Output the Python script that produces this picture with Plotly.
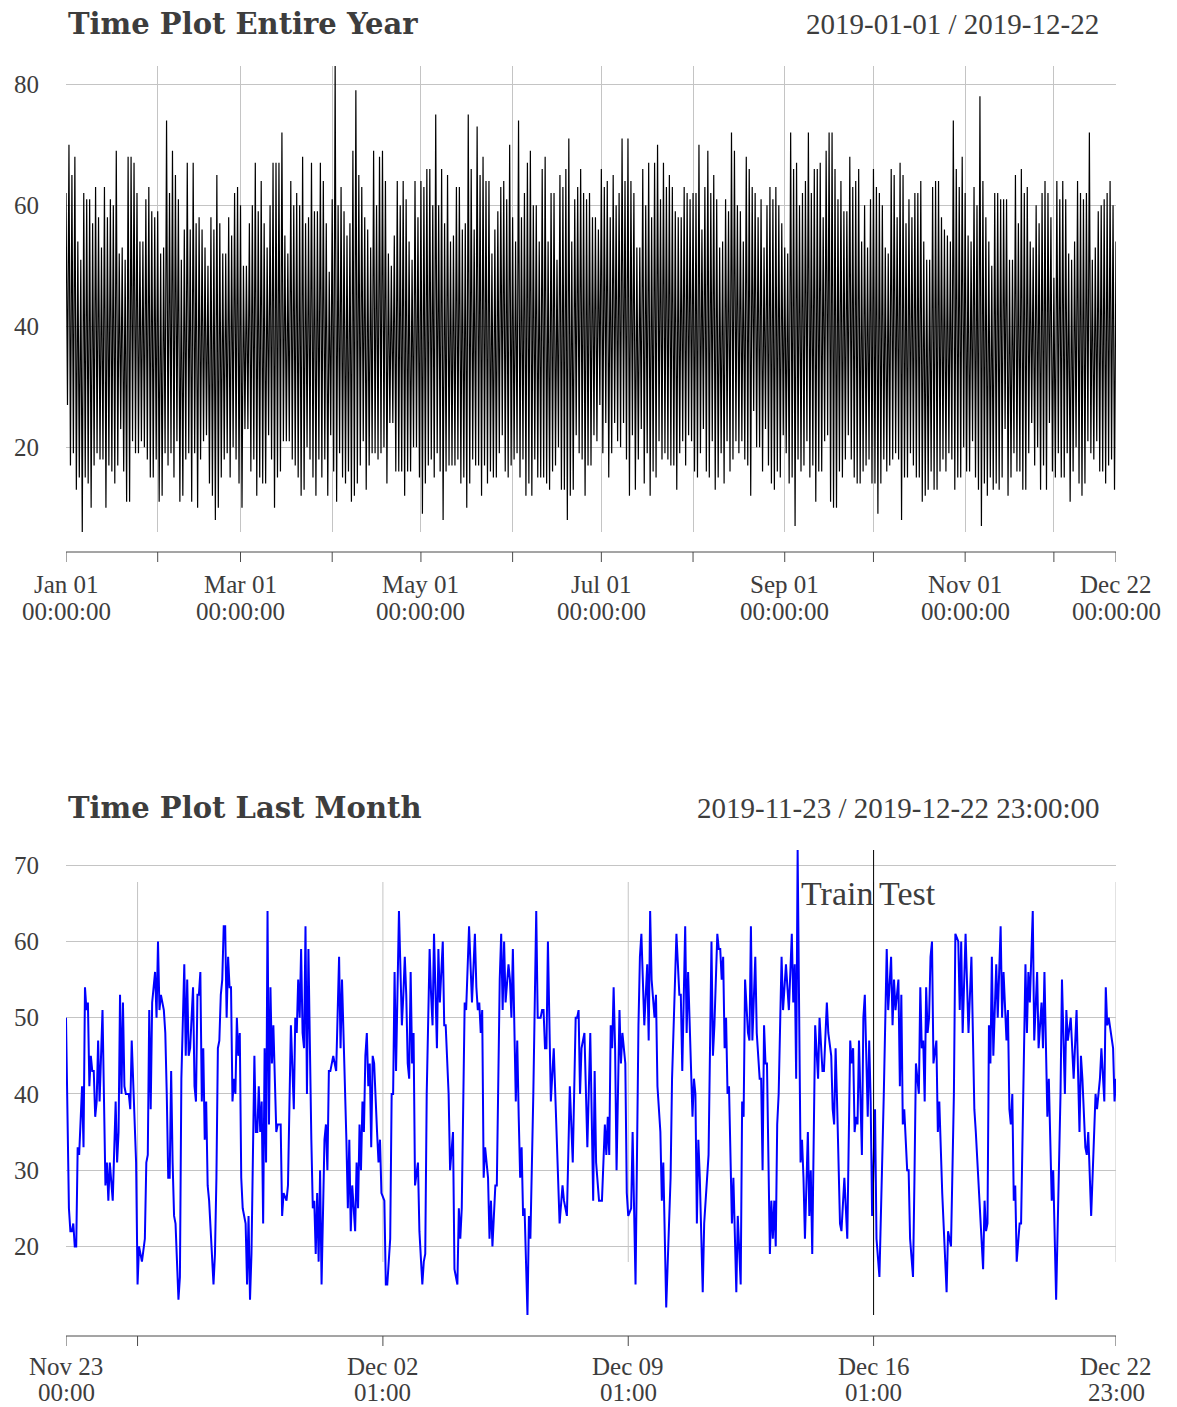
import pandas as pd
import plotly.graph_objects as go

W, H = 1177, 1407

# ---------------- data: entire year (daily high / low strokes) ----------------
year_start = "2019-01-01"
year_end = "2019-12-22"
top_peaks = [
    62,70,65,68,54,51,62,61,61,57,63,58,53,63,58,61,60,69,52,53,51,68,68,67,62,54,54,61,63,59,
    58,59,52,53,74,62,69,65,61,51,56,67,56,67,57,58,56,53,50,58,56,65,57,52,52,58,55,62,63,
    60,50,50,57,60,67,59,64,57,53,60,67,67,67,72,55,52,64,60,62,60,68,57,58,67,59,59,67,64,57,
    49,61,83,60,63,59,55,57,69,79,65,63,58,56,53,69,60,68,69,64,52,50,55,64,60,64,61,54,51,64,
    58,64,63,66,66,60,75,60,66,57,65,54,55,63,63,56,57,75,66,56,73,65,68,64,64,52,56,59,63,64,
    61,70,58,54,74,58,62,67,69,60,60,54,66,68,54,62,62,51,65,63,66,71,54,61,63,66,62,61,62,
    58,58,56,66,63,64,58,65,60,62,71,64,71,64,62,53,53,66,60,67,58,67,70,61,67,63,65,63,59,58,
    58,63,62,61,62,62,70,56,63,69,62,65,61,53,54,61,59,72,69,60,59,54,68,66,63,62,58,61,53,
    60,63,61,63,60,57,53,52,72,66,67,60,62,64,72,62,66,66,67,58,69,72,72,66,61,64,59,59,68,63,
    64,66,54,60,53,61,66,63,62,60,53,52,66,65,58,67,65,57,61,58,62,62,64,54,51,51,63,64,64,
    58,56,55,54,74,66,63,68,62,55,54,63,60,78,64,58,54,50,62,62,61,61,61,51,51,65,57,66,62,63,
    54,53,60,57,62,64,62,58,48,64,61,64,61,52,51,54,64,62,61,62,72,51,53,59,60,61,62,64,60,54,
]
top_troughs = [
    27,17,19,13,15,6,15,14,10,17,19,18,18,10,17,16,14,17,23,16,11,11,21,19,19,21,20,18,15,15,
    18,11,12,19,17,19,15,21,11,12,18,19,11,19,10,18,21,22,14,12,8,10,15,18,19,15,20,18,14,
    10,23,23,16,18,12,15,14,14,22,18,10,15,16,21,21,21,18,17,15,12,13,20,18,15,12,18,15,18,12,
    22,16,11,19,15,14,16,11,12,14,17,21,13,17,19,19,18,19,20,14,24,24,16,16,16,12,16,16,20,20,
    15,9,14,17,18,15,19,16,8,16,17,17,17,18,14,15,10,14,18,17,17,12,17,14,16,15,15,19,22,16,
    15,17,18,19,15,18,12,14,12,18,15,15,15,14,13,16,17,20,13,13,8,12,13,22,19,18,12,17,17,
    22,21,27,19,24,15,19,24,21,20,24,18,12,22,13,18,23,14,19,12,16,15,21,18,19,18,17,17,13,19,
    21,17,22,21,16,15,19,23,16,15,21,13,15,19,14,21,16,18,21,19,21,18,17,12,26,20,20,16,23,
    17,14,13,16,15,22,19,14,15,7,18,16,17,21,15,17,11,16,16,21,22,11,10,10,16,15,18,22,18,15,
    14,14,16,17,18,14,14,9,14,18,16,17,18,19,18,8,15,15,19,17,15,15,11,12,13,16,13,13,16,
    18,16,19,18,13,15,15,20,16,16,21,15,13,7,14,12,15,13,14,13,15,23,12,15,19,16,16,13,13,19,
    24,17,20,13,17,13,24,16,15,19,15,15,19,11,16,20,14,12,14,21,19,18,21,16,16,14,17,18,13,22,
]
top_tick_dates = ["2019-01-01","2019-02-01","2019-03-01","2019-04-01","2019-05-01","2019-06-01",
                  "2019-07-01","2019-08-01","2019-09-01","2019-10-01","2019-11-01","2019-12-01","2019-12-22"]
top_tick_line1 = ["Jan 01","","Mar 01","","May 01","","Jul 01","","Sep 01","","Nov 01","","Dec 22"]
top_tick_line2 = ["00:00:00","","00:00:00","","00:00:00","","00:00:00","","00:00:00","","00:00:00","","00:00:00"]
top_yticks = [20, 40, 60, 80]

# ---------------- data: last month (hourly) ----------------
month_start = "2019-11-23 00:00"
month_end = "2019-12-22 23:00"
month_hours = [
    0,2,3,4,5,6,7,8,9,11,12,13,14,15,16,17,18,19,20,21,22,23,25,26,27,28,29,30,32,34,35,36,37,38,39,40,41,43,44,45,
    47,48,49,50,52,54,55,56,57,58,59,60,61,62,63,64,65,67,68,69,70,71,72,73,74,75,77,78,79,81,82,83,84,85,87,88,89,90,91,92,
    93,94,95,96,97,98,101,102,103,104,105,106,107,108,109,110,111,112,113,114,115,116,117,118,119,
    120,121,123,124,125,126,127,129,130,131,132,133,134,135,136,137,138,139,140,141,142,144,145,147,148,149,151,152,154,156,
    157,158,159,160,161,162,163,164,165,166,168,169,170,171,172,173,174,175,177,178,179,180,181,183,184,185,187,188,189,191,
    192,193,194,195,196,198,199,200,201,202,203,204,205,206,207,208,209,210,211,213,214,215,216,218,219,220,222,223,224,225,226,228,
    230,231,232,233,234,235,236,237,238,239,241,242,244,245,246,247,249,250,251,252,253,254,255,256,258,259,260,262,263,265,
    266,268,269,270,271,272,273,274,276,278,280,281,282,283,284,285,286,287,289,290,291,292,294,295,297,298,299,300,301,303,
    304,305,306,308,309,310,311,312,313,314,316,317,318,320,322,323,325,326,327,328,329,330,332,334,336,338,340,341,343,344,
    345,347,349,350,351,352,353,355,357,359,361,362,363,365,367,369,370,371,372,373,374,375,376,377,379,380,381,383,384,385,
    387,388,390,392,393,394,396,398,399,400,401,403,404,405,407,408,409,411,414,415,417,418,420,421,422,424,425,426,429,430,
    431,432,433,434,436,437,440,442,443,444,446,447,448,449,450,451,452,453,454,456,457,459,460,462,463,464,465,467,468,469,
    470,472,473,475,476,477,478,479,480,482,483,484,485,486,487,488,490,491,493,495,497,498,499,500,501,502,503,504,505,506,
    508,509,510,511,513,515,516,518,519,521,522,524,525,526,527,528,530,531,533,535,537,538,539,540,541,542,543,545,546,547,
    549,550,551,552,554,555,557,560,561,562,563,565,566,567,568,570,571,572,573,574,576,577,578,580,581,582,584,585,586,587,
    588,589,590,591,592,593,594,596,597,598,600,603,604,606,608,609,611,612,613,614,616,618,620,622,623,626,628,629,630,631,
    632,633,634,635,637,638,640,641,642,644,645,646,647,648,649,650,651,653,654,657,658,659,660,662,663,665,666,668,669,670,
    672,673,675,676,678,681,682,684,685,686,688,690,692,694,695,696,698,699,700,702,704,705,706,708,709,711,712,713,714,716,
    717,718,719,
]
month_values = [
    50,25,22,22,23,20,20,33,32,41,33,54,51,52,41,45,43,43,37,39,47,39,51,37,28,31,26,31,26,39,31,35,53,40,52,41,40,40,38,47,
    36,31,15,20,18,21,31,32,51,38,52,54,56,50,60,51,53,51,48,40,29,29,43,31,24,23,13,16,42,57,45,55,45,46,54,41,39,53,53,56,
    39,46,34,39,28,26,15,19,29,46,47,53,55,62,62,50,58,54,54,39,42,40,50,45,48,
    29,25,23,15,24,13,19,45,35,35,41,35,39,23,46,31,64,36,54,44,49,35,36,36,24,27,26,28,49,38,
    50,48,55,50,59,48,46,62,40,59,34,25,26,19,27,18,30,15,34,36,30,43,43,45,44,43,58,46,55,42,
    34,25,34,22,28,22,31,25,36,30,39,35,45,48,41,44,33,45,44,35,31,34,27,26,15,15,21,40,40,56,43,64,
    49,53,58,53,44,42,56,44,48,28,31,22,15,18,19,40,59,53,49,61,53,46,59,52,60,49,49,40,30,35,
    17,15,25,21,25,39,52,51,62,52,61,54,51,52,48,51,29,33,29,21,26,20,28,28,55,61,51,60,52,57,
    55,50,59,39,47,37,29,33,24,25,11,24,21,40,64,50,50,51,51,46,46,60,39,46,33,23,28,26,24,31,
    41,31,50,50,51,40,46,48,33,48,26,43,31,26,26,36,32,37,32,49,46,54,46,30,51,44,48,44,27,24,
    25,35,15,49,58,61,49,57,47,64,55,50,53,41,35,26,31,12,29,42,53,61,53,53,43,62,48,56,37,42,
    40,23,34,29,14,23,32,60,45,49,61,59,59,55,58,46,50,40,41,23,29,14,24,15,39,37,55,48,47,62,
    47,58,48,42,42,30,49,44,44,19,26,21,26,20,36,40,58,51,57,51,61,52,57,42,72,50,31,34,29,21,
    35,24,30,19,49,42,50,43,43,52,48,45,38,36,46,39,23,22,29,21,47,44,46,35,37,36,47,32,50,53,
    37,47,39,24,38,21,16,40,50,59,51,58,49,55,51,55,41,53,36,38,30,30,21,16,29,44,40,54,46,47,
    39,54,48,50,58,60,44,47,35,39,27,14,22,20,40,61,60,51,60,48,61,48,58,38,35,23,17,26,22,23,
    49,44,58,45,57,50,62,50,56,47,51,38,36,40,26,28,18,23,23,57,48,56,52,64,47,56,46,52,46,56,
    37,42,26,30,13,40,55,40,51,47,50,42,51,35,45,42,33,32,35,24,35,40,38,42,46,39,54,49,50,47,
    46,39,42,
]
split_time = "2019-12-16 01:00"
month_tick_dates = ["2019-11-23 00:00","2019-11-25 01:00","2019-12-02 01:00","2019-12-09 01:00",
                    "2019-12-16 01:00","2019-12-22 23:00"]
month_tick_line1 = ["Nov 23","","Dec 02","Dec 09","Dec 16","Dec 22"]
month_tick_line2 = ["00:00","","01:00","01:00","01:00","23:00"]
month_grid_dates = ["2019-11-25 01:00","2019-12-02 01:00","2019-12-09 01:00","2019-12-16 01:00","2019-12-22 23:00"]
month_yticks = [20, 30, 40, 50, 60, 70]

# ---------------- build series ----------------
t0 = pd.Timestamp(year_start)
top_x, top_y = [], []
for i in range(len(top_peaks)):
    top_x.append(t0 + pd.Timedelta(days=i))
    top_y.append(top_peaks[i])
    if i < len(top_troughs):
        top_x.append(t0 + pd.Timedelta(days=i, hours=12))
        top_y.append(top_troughs[i])

m0 = pd.Timestamp(month_start)
month_x = [m0 + pd.Timedelta(hours=h) for h in month_hours]

# ---------------- styling constants ----------------
TXT = "#3d3d3d"
GRID = "#c4c4c4"
SERIF = "Liberation Serif"
BOLD = "DejaVu Serif"
X0, X1 = 66 / W, 1116 / W

def py(pix):
    return 1 - pix / H

fig = go.Figure()
fig.add_trace(go.Scatter(x=top_x, y=top_y, mode="lines", line=dict(color="black", width=1.2),
                         xaxis="x", yaxis="y", hoverinfo="skip", showlegend=False))
fig.add_trace(go.Scatter(x=month_x, y=month_values, mode="lines", line=dict(color="#0000ff", width=2),
                         xaxis="x2", yaxis="y2", hoverinfo="skip", showlegend=False))

top_yr = [min(top_peaks + top_troughs), max(top_peaks + top_troughs)]
mon_yr = [min(month_values), max(month_values)]

yax_common = dict(showline=False, zeroline=False, ticks="", ticklabelstandoff=26,
                  tickfont=dict(family=SERIF, size=25, color=TXT))

fig.update_layout(
    width=W, height=H, autosize=False, margin=dict(l=0, r=0, t=0, b=0),
    paper_bgcolor="white", plot_bgcolor="white",
    xaxis=dict(domain=[X0, X1], anchor="y", range=[year_start, year_end], tickvals=top_tick_dates,
               showticklabels=False, showgrid=True, gridcolor=GRID, gridwidth=1, zeroline=False,
               showline=False, ticks=""),
    yaxis=dict(domain=[py(532), py(66)], range=top_yr, tickvals=top_yticks, showgrid=True,
               gridcolor=GRID, gridwidth=1, anchor="x", **yax_common),
    yaxis3=dict(overlaying="y", side="right", anchor="x", range=top_yr, tickvals=top_yticks,
                showgrid=False, **yax_common),
    xaxis2=dict(domain=[X0, X1], anchor="y2", range=[month_start, month_end], showticklabels=False,
                showgrid=False, zeroline=False, showline=False, ticks=""),
    yaxis2=dict(domain=[py(1315), py(850)], range=mon_yr, tickvals=month_yticks, showgrid=True,
                gridcolor=GRID, gridwidth=1, anchor="x2", **yax_common),
    yaxis4=dict(overlaying="y2", side="right", anchor="x2", range=mon_yr, tickvals=month_yticks,
                showgrid=False, **yax_common),
)

shapes = []
annots = []
AXC = "#4a4a4a"

def add_axis(xref, tick_dates, line1, line2, start, end, yline, yl1, yl2):
    shapes.append(dict(type="line", xref=xref, yref="paper", x0=start, x1=end,
                       y0=py(yline), y1=py(yline), line=dict(color=AXC, width=1)))
    for d, a, b in zip(tick_dates, line1, line2):
        shapes.append(dict(type="line", xref=xref, yref="paper", x0=d, x1=d,
                           y0=py(yline), y1=py(yline + 10), line=dict(color=AXC, width=1)))
        if a:
            annots.append(dict(xref=xref, yref="paper", x=d, y=py(yl1), text=a, showarrow=False,
                               xanchor="center", yanchor="middle", borderpad=0,
                               font=dict(family=SERIF, size=25, color=TXT)))
            annots.append(dict(xref=xref, yref="paper", x=d, y=py(yl2), text=b, showarrow=False,
                               xanchor="center", yanchor="middle", borderpad=0,
                               font=dict(family=SERIF, size=25, color=TXT)))

add_axis("x", top_tick_dates, top_tick_line1, top_tick_line2, year_start, year_end, 552, 585, 611)
add_axis("x2", month_tick_dates, month_tick_line1, month_tick_line2, month_start, month_end, 1336, 1366, 1392)

# bottom panel vertical grid lines
for d in month_grid_dates:
    shapes.append(dict(type="line", xref="x2", yref="paper", x0=d, x1=d, y0=py(1262), y1=py(882),
                       line=dict(color=GRID, width=1), layer="below"))

# train / test split
shapes.append(dict(type="line", xref="x2", yref="y2 domain", x0=split_time, x1=split_time, y0=0, y1=1,
                   line=dict(color="black", width=1)))
annots.append(dict(xref="x2", yref="paper", x=split_time, y=py(893), text="Train", showarrow=False,
                   xanchor="right", yanchor="middle", xshift=1, font=dict(family=SERIF, size=34, color=TXT)))
annots.append(dict(xref="x2", yref="paper", x=split_time, y=py(893), text="Test", showarrow=False,
                   xanchor="left", yanchor="middle", xshift=3, font=dict(family=SERIF, size=34, color=TXT)))

# titles
annots.append(dict(xref="paper", yref="paper", x=X0, y=py(24), text="<b>Time Plot Entire Year</b>",
                   showarrow=False, xanchor="left", yanchor="middle",
                   font=dict(family=BOLD, size=29, color=TXT)))
annots.append(dict(xref="paper", yref="paper", x=1101 / W, y=py(24), text="2019-01-01 / 2019-12-22",
                   showarrow=False, xanchor="right", yanchor="middle",
                   font=dict(family=SERIF, size=29, color=TXT)))
annots.append(dict(xref="paper", yref="paper", x=X0, y=py(808), text="<b>Time Plot Last Month</b>",
                   showarrow=False, xanchor="left", yanchor="middle",
                   font=dict(family=BOLD, size=29, color=TXT)))
annots.append(dict(xref="paper", yref="paper", x=1101 / W, y=py(808), text="2019-11-23 / 2019-12-22 23:00:00",
                   showarrow=False, xanchor="right", yanchor="middle",
                   font=dict(family=SERIF, size=29, color=TXT)))

fig.update_layout(shapes=shapes, annotations=annots)
fig.write_html("out.html")
